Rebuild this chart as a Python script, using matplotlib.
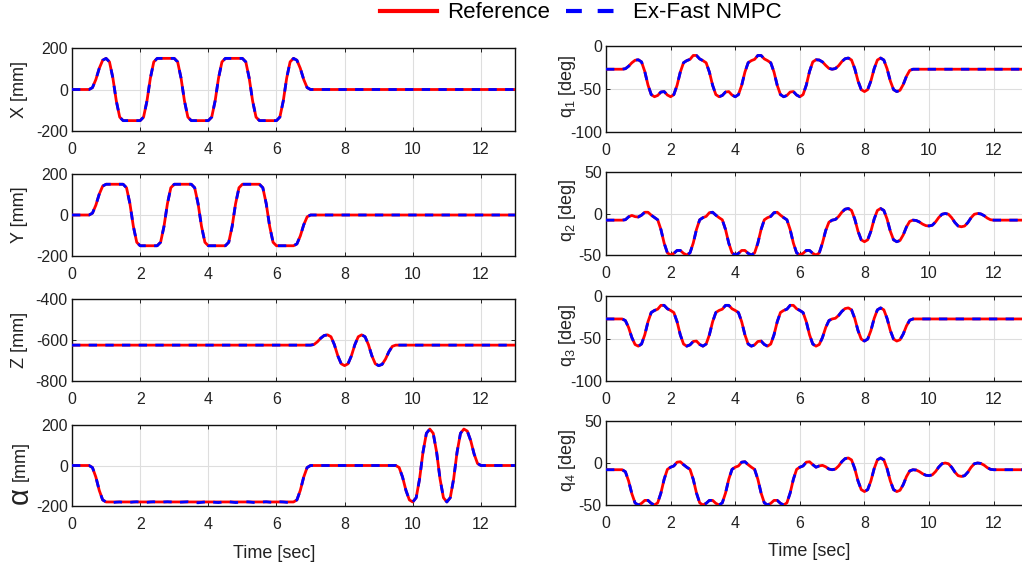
import numpy as np
import matplotlib
matplotlib.use('Agg')
import matplotlib.pyplot as plt
from matplotlib.lines import Line2D

plt.rcParams['font.family'] = ['Liberation Sans Narrow', 'Liberation Sans', 'DejaVu Sans']
plt.rcParams['mathtext.fontset'] = 'custom'
plt.rcParams['mathtext.rm'] = 'Liberation Sans'
plt.rcParams['axes.unicode_minus'] = False

# time samples, 0.1 s apart (0.0 .. 13.0)
t = np.round(np.arange(131) * 0.1, 1)

# values, one value per 0.1 s
ref_x = ([0] + [0] * 5 + [9, 48, 102, 141, 150] + [133, 55, -55, -133, -150] + [-150] * 5
         + [-133, -55, 55, 133, 150] + [150] * 5 + [133, 55, -55, -133, -150] + [-150] * 5
         + [-133, -55, 55, 133, 150] + [150] * 5 + [133, 55, -55, -133, -150] + [-150] * 5
         + [-133, -55, 55, 133, 150] + [141, 102, 48, 9, 0] + [0] * 60)
ref_y = ([0] + [0] * 5 + [9, 48, 102, 141, 150] + [150] * 5 + [133, 55, -55, -133, -150]
         + [-150] * 5 + [-133, -55, 55, 133, 150] + [150] * 5 + [133, 55, -55, -133, -150]
         + [-150] * 5 + [-133, -55, 55, 133, 150] + [150] * 5 + [133, 55, -55, -133, -150]
         + [-150] * 5 + [-141, -102, -48, -9, 0] + [0] * 60)
ref_z = ([-625] + [-625] * 70 + [-622, -609, -591, -578, -575] + [-584, -623, -677, -716, -725]
         + [-716, -677, -623, -584, -575] + [-584, -623, -677, -716, -725]
         + [-719, -693, -657, -631, -625] + [-625] * 35)
ref_alpha = ([0] + [0] * 5 + [-10, -57, -123, -170, -180] + [-180] * 55 + [-170, -123, -57, -10, 0]
             + [0] * 25 + [-10, -57, -123, -170, -180] + [-159, -66, 66, 159, 180]
             + [159, 66, -66, -159, -180] + [-159, -66, 66, 159, 180] + [170, 123, 57, 10, 0]
             + [0] * 10)

ref_q1 = ([-27] + [-27] * 5 + [-26.4, -23.5, -19.5, -16.6, -16] + [-18.5, -29.6, -45.4, -56.5, -59]
          + [-57.5, -53.5, -53, -57, -59] + [-56.5, -45.7, -30.3, -19.4, -17] + [-15.5, -11, -11, -15, -17]
          + [-19.5, -30.3, -45.7, -56.5, -59] + [-57.5, -53.5, -53, -57, -59] + [-56.5, -45.7, -30.3, -19.4, -17]
          + [-15.5, -11, -11, -15, -17] + [-19.5, -30.3, -45.7, -56.5, -59] + [-57.5, -53.5, -53, -57, -59]
          + [-56.5, -45.4, -29.6, -18.5, -16] + [-16.3, -18.5, -22.5, -26, -27]
          + [-26.2, -22.9, -18.1, -14.8, -14] + [-16.3, -26.4, -40.6, -50.7, -53]
          + [-50.7, -40.6, -26.4, -16.3, -14] + [-16.3, -26.4, -40.6, -50.7, -53]
          + [-51.5, -44.8, -35.2, -28.5, -27] + [-27] * 35)
ref_q2 = ([-8] + [-8] * 5 + [-7.5, -4, -2.3, -3.8, -4.2] + [-2, 1.5, 1.5, -2, -4.8]
          + [-7.6, -19.3, -35.7, -47.4, -50] + [-48, -44.5, -44.5, -48, -50] + [-47.4, -35.7, -19.3, -7.6, -5]
          + [-3.5, 1, 1.5, -2, -5] + [-7.6, -19.3, -35.7, -47.4, -50] + [-48, -44.5, -44.5, -48, -50]
          + [-47.4, -35.7, -19.3, -7.6, -5] + [-3.5, 1, 1.5, -2, -5] + [-7.6, -19.3, -35.7, -47.4, -50]
          + [-48, -44.5, -44.5, -48, -50] + [-47.6, -35.5, -20.5, -10.5, -8]
          + [-7.2, -3.6, 1.6, 5.2, 6] + [3.7, -6.7, -21.3, -31.7, -34] + [-31.7, -21.3, -6.7, 3.7, 6]
          + [3.7, -6.7, -21.3, -31.7, -34] + [-32.5, -25.8, -16.2, -9.5, -8]
          + [-8.4, -10.2, -12.8, -14.6, -15] + [-14.1, -10.2, -4.8, -0.9, 0]
          + [-0.9, -5.1, -10.9, -15.1, -16] + [-15.1, -10.9, -5.1, -0.9, 0]
          + [-0.5, -2.5, -5.5, -7.5, -8] + [-8] * 10)
ref_q3 = ([-27] + [-27] * 5 + [-28.9, -37.1, -48.9, -57.1, -59] + [-56.5, -45.7, -30.3, -19.4, -17]
          + [-15.5, -11, -11, -15, -17] + [-19.5, -30.3, -45.7, -56.5, -59] + [-57.5, -53.5, -53, -57, -59]
          + [-56.5, -45.7, -30.3, -19.4, -17] + [-15.5, -11, -11, -15, -17] + [-19.5, -30.3, -45.7, -56.5, -59]
          + [-57.5, -53.5, -53, -57, -59] + [-56.5, -45.7, -30.3, -19.4, -17] + [-15.5, -11, -11, -15, -17]
          + [-19.5, -30.3, -45.7, -56.5, -59] + [-57.1, -48.9, -37.1, -28.9, -27]
          + [-26.2, -22.9, -18.1, -14.8, -14] + [-16.3, -26.4, -40.6, -50.7, -53]
          + [-50.7, -40.6, -26.4, -16.3, -14] + [-16.3, -26.4, -40.6, -50.7, -53]
          + [-51.5, -44.8, -35.2, -28.5, -27] + [-27] * 35)
ref_q4 = ([-8] + [-8] * 5 + [-10.4, -21.4, -36.6, -47.6, -50] + [-48, -44.5, -44.5, -48, -50]
          + [-47.4, -35.7, -19.3, -7.6, -5] + [-3.5, 1, 1.5, -2, -5] + [-7.6, -19.3, -35.7, -47.4, -50]
          + [-48, -44.5, -44.5, -48, -50] + [-47.4, -35.7, -19.3, -7.6, -5] + [-3.5, 1, 1.5, -2, -5]
          + [-7.6, -19.3, -35.7, -47.4, -50] + [-48, -44.5, -44.5, -48, -50] + [-47.4, -35.7, -19.3, -7.6, -5]
          + [-3.5, 1, 1.5, -2, -5] + [-3.5, -2.8, -4.5, -7.2, -8]
          + [-7.2, -3.6, 1.6, 5.2, 6] + [3.7, -6.7, -21.3, -31.7, -34] + [-31.7, -21.3, -6.7, 3.7, 6]
          + [3.7, -6.7, -21.3, -31.7, -34] + [-32.5, -25.8, -16.2, -9.5, -8]
          + [-8.4, -10.2, -12.8, -14.6, -15] + [-14.1, -10.2, -4.8, -0.9, 0]
          + [-0.9, -5.1, -10.9, -15.1, -16] + [-15.1, -10.9, -5.1, -0.9, 0]
          + [-0.5, -2.5, -5.5, -7.5, -8] + [-8] * 10)

# the controller output sits on top of the reference everywhere except a small ripple in alpha
nmpc_x, nmpc_y, nmpc_z = list(ref_x), list(ref_y), list(ref_z)
nmpc_q1, nmpc_q2, nmpc_q3, nmpc_q4 = list(ref_q1), list(ref_q2), list(ref_q3), list(ref_q4)
nmpc_alpha = ([0] + [0] * 5 + [-10, -57, -123, -170, -180]
              + [-184, -183, -181, -180, -182, -184, -182, -180, -179, -181,
                 -183, -182, -180, -179, -181, -182, -180, -179, -180, -182,
                 -183, -181, -180, -179, -181, -183, -184, -182, -180, -179,
                 -180, -182, -183, -181, -180, -179, -181, -183, -182, -180,
                 -179, -180, -182, -184, -182, -180, -179, -181, -182, -180,
                 -179, -180, -182, -181, -180]
              + [-170, -123, -57, -10, 0] + [0] * 25 + [-10, -57, -123, -170, -180]
              + [-159, -66, 66, 159, 180] + [159, 66, -66, -159, -180]
              + [-159, -66, 66, 159, 180] + [170, 123, 57, 10, 0] + [0] * 10)

left_panels = [('X [mm]', ref_x, nmpc_x, (-200, 200), [-200, 0, 200]),
               ('Y [mm]', ref_y, nmpc_y, (-200, 200), [-200, 0, 200]),
               ('Z [mm]', ref_z, nmpc_z, (-800, -400), [-800, -600, -400]),
               (None, ref_alpha, nmpc_alpha, (-200, 200), [-200, 0, 200])]
right_panels = [(r'q$_\mathregular{1}$ [deg]', ref_q1, nmpc_q1, (-100, 0), [-100, -50, 0]),
                (r'q$_\mathregular{2}$ [deg]', ref_q2, nmpc_q2, (-50, 50), [-50, 0, 50]),
                (r'q$_\mathregular{3}$ [deg]', ref_q3, nmpc_q3, (-100, 0), [-100, -50, 0]),
                (r'q$_\mathregular{4}$ [deg]', ref_q4, nmpc_q4, (-50, 50), [-50, 0, 50])]

W, H = 1022, 574
fig = plt.figure(figsize=(W / 100, H / 100), dpi=100)

# pixel boxes (x0, x1, top, bottom)
left_rows = [(48, 131), (174, 256), (299, 381), (425, 506)]
right_rows = [(46, 132), (172, 255), (296, 381), (421, 505)]
txt = '#222222'


def make_ax(x0, x1, top, bot):
    return fig.add_axes([x0 / W, 1 - bot / H, (x1 - x0) / W, (bot - top) / H])


def style(ax, lim, ticks, ref, nmpc):
    ax.plot(t, ref, color='#ff0000', lw=2.0, zorder=3)
    ax.plot(t, nmpc, color='#0000ff', lw=2.0, dashes=(3, 3), zorder=4)
    ax.set_xlim(0, 13)
    ax.set_ylim(*lim)
    ax.set_xticks([0, 2, 4, 6, 8, 10, 12])
    ax.set_yticks(ticks)
    ax.grid(True, color='#dedede', lw=0.8)
    ax.set_axisbelow(True)
    ax.tick_params(direction='in', length=3, width=0.7, top=True, right=True,
                   labelsize=11.5, colors=txt, labelcolor=txt)
    ax.tick_params(axis='x', pad=8)
    ax.tick_params(axis='y', pad=3)
    for s in ax.spines.values():
        s.set_linewidth(1.0)
        s.set_color('#111111')


for (lab, ref, nmpc, lim, ticks), (top, bot) in zip(left_panels, left_rows):
    ax = make_ax(72, 515, top, bot)
    style(ax, lim, ticks, ref, nmpc)
    if lab is not None:
        fig.text(20 / W, 1 - (top + bot) / 2 / H, lab, rotation=90, ha='center', va='center',
                 fontsize=13, family='Liberation Sans', color=txt)

# alpha label: big alpha glyph, normal size unit
fig.text(20 / W, 1 - 496 / H, 'α', rotation=90, ha='center', va='center',
         fontsize=21, family='Liberation Sans', color=txt)
fig.text(20 / W, 1 - 461 / H, '[mm]', rotation=90, ha='center', va='center',
         fontsize=13, family='Liberation Sans', color=txt)

for (lab, ref, nmpc, lim, ticks), (top, bot) in zip(right_panels, right_rows):
    ax = make_ax(606, 1026, top, bot)
    style(ax, lim, ticks, ref, nmpc)
    fig.text(567 / W, 1 - ((top + bot) / 2 - 3) / H, lab, rotation=90, ha='center', va='center',
             fontsize=13, family='Liberation Sans', color=txt)

fig.text(274 / W, 1 - 553 / H, 'Time [sec]', ha='center', va='center', fontsize=13,
         family='Liberation Sans', color=txt)
fig.text(809 / W, 1 - 552 / H, 'Time [sec]', ha='center', va='center', fontsize=13,
         family='Liberation Sans', color=txt)

handles = [Line2D([], [], color='#ff0000', lw=3),
           Line2D([], [], color='#0000ff', lw=3, dashes=(3.8, 3.8))]
fig.legend(handles, ['Reference', 'Ex-Fast NMPC'], loc='center', ncol=2,
           bbox_to_anchor=(581 / W, 1 - 13 / H), frameon=False, handlelength=2.55,
           handletextpad=0.45, columnspacing=0.75,
           prop={'family': 'Liberation Sans', 'size': 16}, borderpad=0.1)

fig.savefig('out.png', dpi=100, facecolor='white')
